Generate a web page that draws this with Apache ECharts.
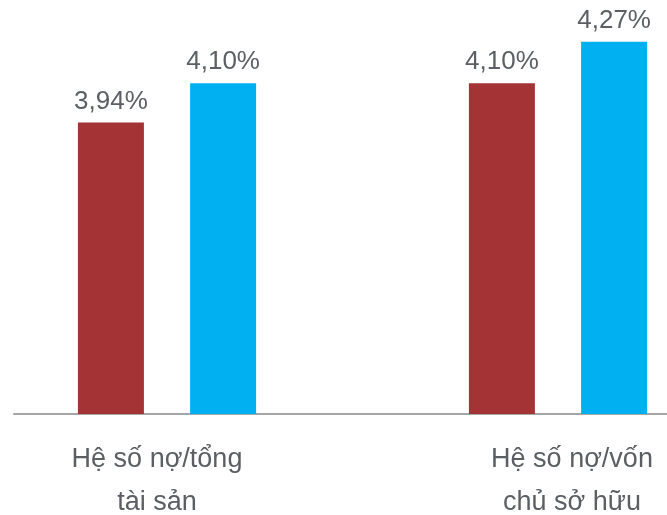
<!DOCTYPE html>
<html><head><meta charset="utf-8">
<style>html,body{margin:0;padding:0;background:#fff}#c{width:667px;height:515px}</style>
<script src="https://cdn.jsdelivr.net/npm/echarts@6/dist/echarts.min.js"></script>
</head><body><div id="c"></div>
<script>
const categories = ['Hệ số nợ/tổng\ntài sản', 'Hệ số nợ/vốn\nchủ sở hữu'];
const seriesA = [3.94, 4.10];
const seriesB = [4.10, 4.27];

const chart = echarts.init(document.getElementById('c'), null, {renderer: 'canvas'});
const fontFamily = '"Liberation Sans", Arial, sans-serif';
const labelColor = '#5B5F63';
const fmt = p => p.value.toFixed(2).replace('.', ',') + '%';
const barLabel = {show: true, position: 'top', distance: 8, formatter: fmt, color: labelColor, fontSize: 26, fontFamily: fontFamily};

chart.setOption({
  backgroundColor: '#fff',
  animation: false,
  grid: [
    {left: 167, right: 109, top: 0, bottom: 101, containLabel: false, outerBoundsMode: 'none'},
    {left: 14, right: 0, top: 0, bottom: 101, containLabel: false, outerBoundsMode: 'none'}
  ],
  xAxis: [
    {type: 'category', gridIndex: 0, boundaryGap: false,
     data: categories.map((c, i) => ({value: c, textStyle: {padding: i === 0 ? [0, 20, 0, 0] : [0, 0, 0, 28]}})),
     axisLine: {show: false}, axisTick: {show: false}, splitLine: {show: false},
     axisLabel: {color: labelColor, fontSize: 27, fontFamily: fontFamily, lineHeight: 43, margin: 24, interval: 0}},
    {type: 'value', gridIndex: 1, min: 0, max: 1,
     axisLine: {show: true, lineStyle: {color: '#A6A6A6', width: 2}},
     axisTick: {show: false}, axisLabel: {show: false}, splitLine: {show: false}}
  ],
  yAxis: [
    {type: 'value', gridIndex: 0, min: 2.75, max: 4.44, show: false, splitLine: {show: false}},
    {type: 'value', gridIndex: 1, min: 0, max: 1, show: false, splitLine: {show: false}}
  ],
  series: [
    {type: 'bar', xAxisIndex: 0, yAxisIndex: 0, data: seriesA, barWidth: 66, barGap: '70%',
     itemStyle: {color: '#A33335'}, label: barLabel},
    {type: 'bar', xAxisIndex: 0, yAxisIndex: 0, data: seriesB, barWidth: 66, barGap: '70%',
     itemStyle: {color: '#00B0F0'}, label: barLabel}
  ]
});
</script>
</body></html>
